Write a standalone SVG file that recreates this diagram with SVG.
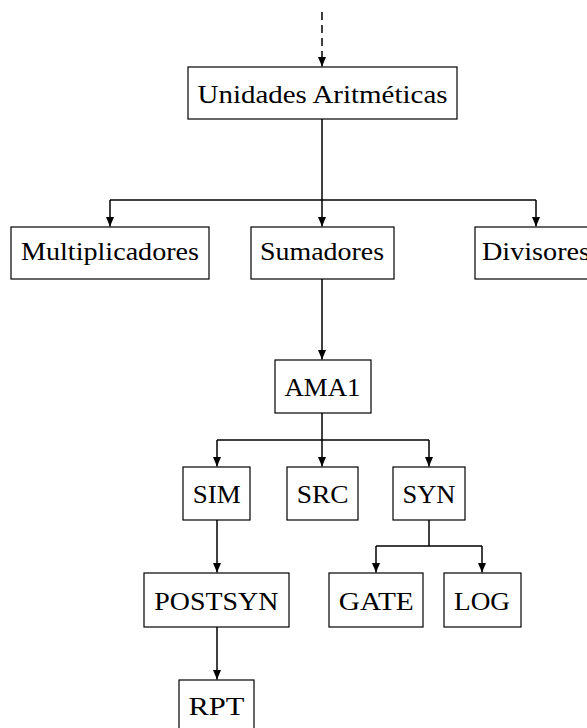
<svg xmlns="http://www.w3.org/2000/svg" width="587" height="728" viewBox="0 0 587 728">
  <style>
    .box { fill: #ffffff; stroke: #000000; stroke-width: 1.2; }
    .lbl { font-family: "Liberation Serif", "DejaVu Serif", serif; font-size: 26px; fill: #000000; text-anchor: middle; }
    .edge { fill: none; stroke: #000000; stroke-width: 1.5; }
    .dash { stroke-dasharray: 8 5; }
  </style>
  <defs>
    <marker id="arrow" markerUnits="userSpaceOnUse" markerWidth="10" markerHeight="9" refX="9.5" refY="4" orient="auto">
      <path d="M0,0 L9.5,4 L0,8 z" fill="#000000"/>
    </marker>
  </defs>

  <!-- connectors -->
  <g id="connectors">
    <path class="edge dash" d="M322,12 V66.5" marker-end="url(#arrow)"/>
    <path class="edge" d="M322,119 V200"/>
    <path class="edge" d="M110,200 H536"/>
    <path class="edge" d="M110,200 V226.5" marker-end="url(#arrow)"/>
    <path class="edge" d="M322,200 V226.5" marker-end="url(#arrow)"/>
    <path class="edge" d="M536,200 V226.5" marker-end="url(#arrow)"/>
    <path class="edge" d="M322,279 V359.5" marker-end="url(#arrow)"/>
    <path class="edge" d="M322,413 V440"/>
    <path class="edge" d="M217,440 H429"/>
    <path class="edge" d="M217,440 V466.5" marker-end="url(#arrow)"/>
    <path class="edge" d="M322,440 V466.5" marker-end="url(#arrow)"/>
    <path class="edge" d="M429,440 V466.5" marker-end="url(#arrow)"/>
    <path class="edge" d="M217,520 V572.5" marker-end="url(#arrow)"/>
    <path class="edge" d="M429,520 V546"/>
    <path class="edge" d="M376,546 H482"/>
    <path class="edge" d="M376,546 V572.5" marker-end="url(#arrow)"/>
    <path class="edge" d="M482,546 V572.5" marker-end="url(#arrow)"/>
    <path class="edge" d="M217,627 V679.5" marker-end="url(#arrow)"/>
  </g>

  <!-- nodes -->
  <g id="unidades">
    <rect class="box" x="188" y="67" width="269" height="52"/>
    <text class="lbl" x="322.5" y="103" textLength="250" lengthAdjust="spacingAndGlyphs">Unidades Aritméticas</text>
  </g>
  <g id="multiplicadores">
    <rect class="box" x="11" y="227" width="198" height="52"/>
    <text class="lbl" x="110" y="260" textLength="178" lengthAdjust="spacingAndGlyphs">Multiplicadores</text>
  </g>
  <g id="sumadores">
    <rect class="box" x="251" y="227" width="143" height="52"/>
    <text class="lbl" x="322" y="260" textLength="124" lengthAdjust="spacingAndGlyphs">Sumadores</text>
  </g>
  <g id="divisores">
    <rect class="box" x="475" y="227" width="122" height="52"/>
    <text class="lbl" x="536" y="260" textLength="108" lengthAdjust="spacingAndGlyphs">Divisores</text>
  </g>
  <g id="ama1">
    <rect class="box" x="275" y="360" width="96" height="53"/>
    <text class="lbl" x="322.5" y="396" textLength="76" lengthAdjust="spacingAndGlyphs">AMA1</text>
  </g>
  <g id="sim">
    <rect class="box" x="183" y="467" width="67" height="53"/>
    <text class="lbl" x="216.7" y="503" textLength="48" lengthAdjust="spacingAndGlyphs">SIM</text>
  </g>
  <g id="src">
    <rect class="box" x="287" y="467" width="71" height="53"/>
    <text class="lbl" x="322.7" y="503" textLength="52" lengthAdjust="spacingAndGlyphs">SRC</text>
  </g>
  <g id="syn">
    <rect class="box" x="393" y="467" width="72" height="53"/>
    <text class="lbl" x="429" y="503" textLength="53" lengthAdjust="spacingAndGlyphs">SYN</text>
  </g>
  <g id="postsyn">
    <rect class="box" x="144" y="573" width="145" height="54"/>
    <text class="lbl" x="216.3" y="610" textLength="124" lengthAdjust="spacingAndGlyphs">POSTSYN</text>
  </g>
  <g id="gate">
    <rect class="box" x="329" y="573" width="94" height="54"/>
    <text class="lbl" x="376.3" y="610" textLength="75" lengthAdjust="spacingAndGlyphs">GATE</text>
  </g>
  <g id="log">
    <rect class="box" x="444" y="573" width="77" height="54"/>
    <text class="lbl" x="482" y="610" textLength="56" lengthAdjust="spacingAndGlyphs">LOG</text>
  </g>
  <g id="rpt">
    <rect class="box" x="179" y="680" width="75" height="56"/>
    <text class="lbl" x="216.5" y="715" textLength="56" lengthAdjust="spacingAndGlyphs">RPT</text>
  </g>
</svg>
